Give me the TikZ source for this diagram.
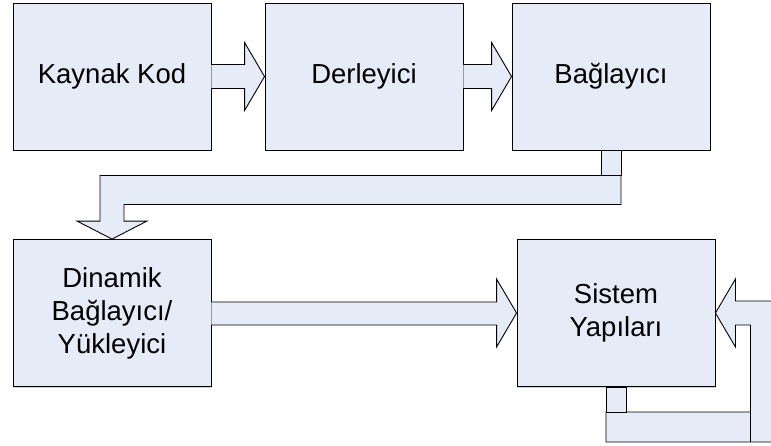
\documentclass[tikz,border=0pt]{standalone}
\usepackage{fontspec}
\setmainfont{Liberation Sans}
\usetikzlibrary{calc}
\definecolor{boxfill}{RGB}{230,236,247}
\begin{document}
\begin{tikzpicture}[x=1pt,y=-1pt,
  shade line/.style={preaction={draw=black!18,line width=1pt,transform canvas={shift={(0.9pt,-0.9pt)}}}},
  box/.style={draw=black,fill=boxfill,line width=0.9pt,minimum width=198pt,minimum height=147pt,
    inner sep=0pt,align=center,font=\fontsize{27.5}{33}\selectfont,shade line},
  conn/.style={draw=black,fill=boxfill,line width=0.9pt,line join=miter}]
\useasboundingbox (0,0) rectangle (771,445);
\clip (0,0) rectangle (771,445);

% processing chain
\node[box] (k)  at (112,76.5) {Kaynak Kod};
\node[box] (d)  at (364,76.5) {Derleyici};
\node[box] (b)  at (611,76.5) {Bağlayıcı};
\node[box] (dy) at (112,313)  {Dinamik\\Bağlayıcı/\\Yükleyici};
\node[box] (s)  at (616,313)  {Sistem\\Yapıları};

% block arrows between the boxes of the top row
\path[conn] let \p1=(k.east), \p2=(d.west) in
  (\x1,\y2+12pt) -- (\x2-20pt,\y2+12pt) -- (\x2-20pt,\y2+34pt) -- (\x2,\y2)
  -- (\x2-20pt,\y2-34pt) -- (\x2-20pt,\y2-12pt) -- (\x1,\y2-12pt);
\path[conn] let \p1=(d.east), \p2=(b.west) in
  (\x1,\y2+12pt) -- (\x2-20pt,\y2+12pt) -- (\x2-20pt,\y2+34pt) -- (\x2,\y2)
  -- (\x2-20pt,\y2-34pt) -- (\x2-20pt,\y2-12pt) -- (\x1,\y2-12pt);

% linker output routed back down to the dynamic loader
\path[conn] let \p1=(b.south), \p2=(dy.north) in
  (\x2-12pt,\y1-25pt) -- (\x1+10pt,\y1-25pt) -- (\x1+10pt,\y1-54pt)
  -- (\x2+12pt,\y1-54pt) -- (\x2+12pt,\y2+18pt) -- (\x2+35pt,\y2+18pt)
  -- (\x2,\y2) -- (\x2-35pt,\y2+18pt) -- (\x2-12pt,\y2+18pt) -- cycle;
\path[conn] let \p1=(b.south) in
  (\x1-10pt,\y1) rectangle (\x1+10pt,\y1-25pt);

% dynamic loader into the system structures
\path[conn] let \p1=(dy.east), \p2=(s.west) in
  (\x1,\y2+11pt) -- (\x2-20pt,\y2+11pt) -- (\x2-20pt,\y2+34pt) -- (\x2,\y2)
  -- (\x2-20pt,\y2-34pt) -- (\x2-20pt,\y2-12pt) -- (\x1,\y2-12pt);

% feedback loop on the right of the system structures
\path[conn] let \p1=(s.east), \p2=(s.south) in
  (\x1,\y1) -- (\x1+20pt,\y1+34pt) -- (\x1+20pt,\y1+12pt) -- (\x1+59pt,\y1+12pt)
  -- (\x1+59pt,\y2-55pt) -- (\x2-10pt,\y2-55pt) -- (\x2-10pt,\y2-25pt)
  -- (\x1+35pt,\y2-25pt) -- (\x1+35pt,\y1-12pt) -- (\x1+20pt,\y1-12pt)
  -- (\x1+20pt,\y1-34pt) -- cycle;
\draw[line width=0.9pt] let \p1=(s.east), \p2=(s.south) in
  (\x1+35pt,\y2-25pt) -- (\x1+35pt,\y2-55pt);
\path[conn] let \p1=(s.south) in
  (\x1-10pt,\y1) rectangle (\x1+10pt,\y1-25pt);
\end{tikzpicture}
\end{document}
